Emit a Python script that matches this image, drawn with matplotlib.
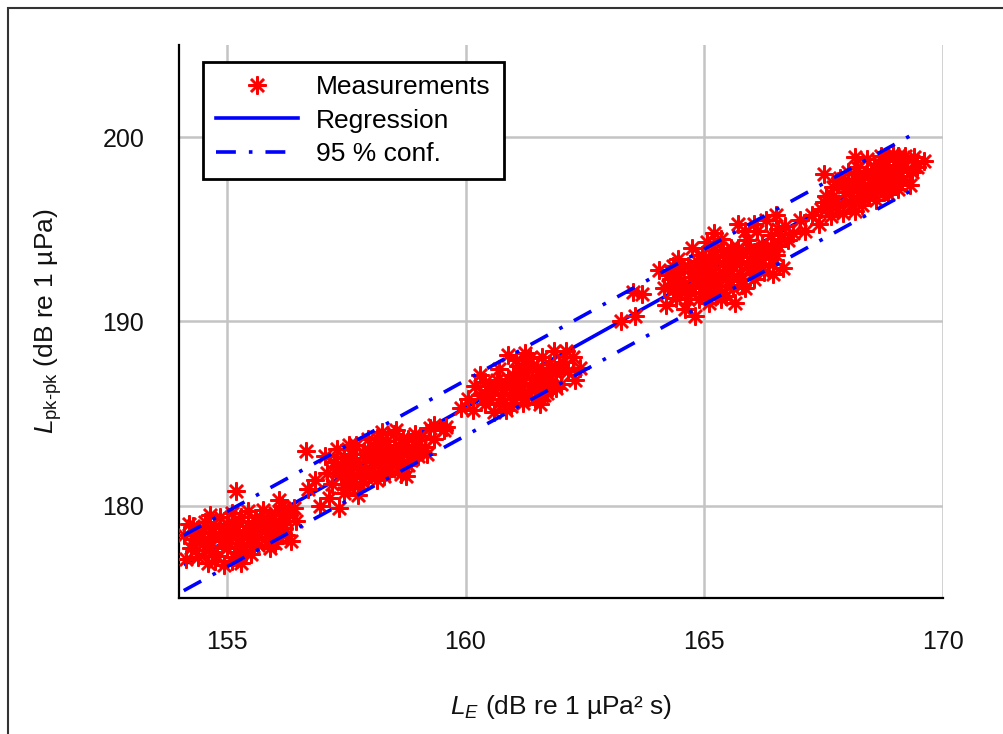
import matplotlib
matplotlib.use("Agg")
import matplotlib.pyplot as plt
from matplotlib.lines import Line2D
from matplotlib.patches import Rectangle

plt.rcParams['font.family'] = ['Liberation Sans', 'DejaVu Sans']
plt.rcParams['mathtext.fontset'] = 'custom'
plt.rcParams['mathtext.rm'] = 'Liberation Sans'
plt.rcParams['mathtext.it'] = 'Liberation Sans:italic'

# ---------------- data ----------------
meas_x = [
    # cluster ~155
    154.10, 154.25, 154.30, 154.40, 154.45, 154.55, 154.60, 154.65, 154.70, 154.80,
    154.85, 154.90, 154.95, 155.00, 155.05, 155.10, 155.15, 155.20, 155.20, 155.25,
    155.30, 155.35, 155.40, 155.45, 155.50, 155.55, 155.60, 155.65, 155.70, 155.75,
    155.80, 155.85, 155.90, 155.95, 156.00, 156.05, 156.10, 156.15, 156.20, 156.30,
    156.35, 156.40, 154.50, 154.75, 155.00, 155.30, 155.60, 155.90, 154.35, 155.10,
    154.15, 154.20, 154.40, 154.55, 154.65, 154.75, 154.90, 155.05, 155.15, 155.25,
    155.35, 155.45, 155.55, 155.70, 155.85, 156.00, 156.20, 156.25, 156.45, 156.10,
    154.60, 155.00, 155.40, 155.80,
    154.30, 154.50, 154.70, 154.85, 155.10, 155.30, 155.50, 155.65, 155.95, 156.15,
    # cluster ~158
    156.65, 156.70, 156.85, 156.95, 157.05, 157.10, 157.20, 157.25, 157.30, 157.35,
    157.40, 157.45, 157.50, 157.55, 157.60, 157.65, 157.70, 157.75, 157.80, 157.85,
    157.90, 157.95, 158.00, 158.05, 158.10, 158.15, 158.20, 158.25, 158.30, 158.35,
    158.40, 158.45, 158.50, 158.55, 158.60, 158.65, 158.70, 158.75, 158.80, 158.85,
    158.90, 159.00, 159.05, 159.15, 159.25, 159.35, 159.60, 157.15, 157.95, 158.35,
    157.30, 157.50, 157.70, 157.90, 158.00, 158.20, 158.40, 158.60, 158.80, 159.00,
    157.60, 158.10, 158.50, 157.85, 158.30, 158.95, 159.20, 157.45, 158.70, 158.15,
    157.40, 157.65, 157.80, 158.05, 158.25, 158.45, 158.65, 158.90, 157.55, 158.55,
    # cluster ~161
    159.35, 159.55, 159.90, 160.05, 160.15, 160.30, 160.30, 160.40, 160.50, 160.60,
    160.65, 160.75, 160.85, 160.90, 160.95, 161.00, 161.05, 161.10, 161.15, 161.20,
    161.25, 161.30, 161.35, 161.40, 161.45, 161.50, 161.55, 161.60, 161.65, 161.70,
    161.75, 161.80, 161.85, 161.90, 162.00, 162.05, 162.15, 162.25, 162.30, 162.40,
    160.70, 161.00, 161.30, 160.20, 161.55,
    160.50, 160.80, 161.00, 161.20, 161.40, 161.60, 161.80, 160.90, 161.10, 161.30,
    161.50, 161.70, 161.90, 160.60, 161.25, 161.65, 160.40, 162.10,
    160.45, 160.70, 160.95, 161.15, 161.35, 161.55, 161.75, 161.95, 161.05, 160.85,
    # isolated
    163.25, 163.55, 163.50, 163.70,
    # cluster ~165
    164.05, 164.15, 164.20, 164.30, 164.40, 164.45, 164.55, 164.60, 164.65, 164.70,
    164.75, 164.80, 164.85, 164.90, 164.95, 165.00, 165.05, 165.10, 165.15, 165.20,
    165.25, 165.30, 165.35, 165.40, 165.45, 165.50, 165.55, 165.60, 165.65, 165.70,
    165.75, 165.80, 165.85, 165.90, 165.95, 166.00, 166.05, 166.10, 166.15, 166.20,
    166.25, 166.30, 166.35, 166.40, 166.45, 166.50, 166.55, 166.65, 166.70, 164.50,
    164.90, 165.20, 165.50, 165.80, 166.10, 164.35, 165.60, 165.00,
    164.40, 164.60, 164.80, 165.00, 165.10, 165.30, 165.40, 165.60, 165.70, 165.90,
    166.00, 166.20, 166.40, 166.60, 164.70, 165.20, 165.45, 165.85, 166.30, 164.95,
    164.25, 166.75, 165.10, 165.75, 164.65, 165.35, 166.05, 166.50,
    164.50, 164.75, 165.05, 165.25, 165.55, 165.65, 165.95, 166.25, 166.55, 164.85,
    165.15, 165.80, 166.45, 164.35,
    # bridge
    166.85, 167.00, 167.10, 167.25, 167.40, 167.50,
    # cluster ~168.5
    167.45, 167.55, 167.65, 167.70, 167.80, 167.85, 167.90, 167.95, 168.00, 168.05,
    168.10, 168.15, 168.20, 168.25, 168.30, 168.35, 168.40, 168.45, 168.50, 168.55,
    168.60, 168.65, 168.70, 168.75, 168.80, 168.85, 168.90, 168.95, 169.00, 169.05,
    169.10, 169.15, 169.25, 169.30, 169.40, 169.60, 168.20, 168.60, 168.90, 167.60,
    169.20, 168.40,
    167.70, 167.90, 168.10, 168.30, 168.50, 168.70, 168.80, 169.00, 169.15, 168.00,
    168.45, 168.65, 168.25, 167.80, 169.35, 168.85, 167.50, 169.05,
    167.75, 168.05, 168.35, 168.55, 168.75, 169.10, 168.15, 168.95, 169.45,
]
meas_y = [
    178.40, 177.70, 178.90, 177.20, 178.30, 179.10, 176.90, 177.80, 178.60, 177.30,
    179.40, 178.10, 176.80, 177.70, 178.80, 179.60, 177.20, 178.30, 180.80, 179.10,
    176.90, 177.90, 178.70, 179.70, 177.40, 178.30, 179.20, 177.90, 178.80, 179.80,
    178.20, 179.30, 177.70, 178.70, 179.60, 178.30, 179.10, 180.00, 178.80, 179.50,
    178.10, 179.90, 178.00, 178.90, 178.40, 178.00, 178.60, 179.00, 177.60, 177.00,
    177.10, 179.00, 178.50, 177.60, 179.50, 177.00, 178.60, 178.00, 179.00, 177.50,
    178.40, 178.90, 177.80, 179.40, 178.50, 178.00, 179.90, 178.40, 179.20, 180.30,
    178.20, 179.00, 177.50, 179.00,
    178.20, 178.80, 177.50, 178.30, 178.50, 179.40, 178.50, 179.00, 179.30, 179.00,
    182.95, 180.90, 181.40, 180.00, 182.70, 181.80, 181.20, 182.40, 183.10, 179.90,
    181.60, 180.70, 182.20, 181.00, 182.80, 181.50, 183.30, 180.60, 182.00, 181.30,
    182.60, 183.60, 181.80, 182.40, 183.20, 181.40, 182.90, 184.00, 182.30, 183.50,
    181.90, 182.70, 183.90, 182.20, 183.30, 181.70, 182.80, 181.60, 183.60, 182.50,
    183.10, 182.70, 183.80, 183.20, 184.20, 183.60, 184.30, 180.40, 182.90, 182.60,
    182.10, 181.20, 182.40, 181.60, 183.00, 182.10, 183.10, 182.40, 182.20, 183.30,
    181.80, 182.60, 182.90, 182.80, 181.60, 183.90, 182.80, 182.60, 183.60, 183.70,
    182.00, 182.20, 181.20, 181.90, 182.60, 182.30, 183.00, 182.90, 183.30, 184.10,
    184.40, 184.10, 185.30, 185.80, 185.20, 186.00, 187.10, 185.50, 186.30, 185.10,
    186.80, 185.80, 186.50, 188.20, 185.40, 187.10, 186.00, 187.60, 186.60, 185.60,
    187.30, 186.20, 188.00, 186.90, 185.80, 187.50, 186.40, 188.10, 187.00, 186.10,
    187.70, 186.70, 188.40, 187.20, 186.60, 187.80, 187.30, 188.10, 186.80, 187.50,
    187.40, 186.40, 187.70, 186.50, 185.50,
    185.80, 186.10, 185.80, 186.90, 187.40, 186.80, 187.40, 186.90, 186.30, 185.90,
    186.50, 187.30, 186.40, 186.40, 188.30, 186.00, 186.70, 188.40,
    186.00, 185.60, 186.60, 187.00, 186.50, 187.10, 186.50, 187.60, 187.90, 185.20,
    190.00, 190.30, 191.60, 191.50,
    192.80, 191.80, 190.90, 192.30, 191.30, 193.40, 192.00, 190.70, 193.00, 191.60,
    194.00, 190.30, 192.50, 191.20, 193.60, 192.10, 194.30, 191.00, 192.90, 193.90,
    191.70, 192.50, 194.50, 193.20, 191.40, 192.20, 194.00, 193.00, 191.00, 195.30,
    192.60, 193.70, 191.80, 194.40, 192.90, 193.50, 192.30, 194.90, 193.00, 194.20,
    192.70, 195.50, 193.60, 194.70, 193.10, 195.80, 194.10, 192.90, 195.20, 192.70,
    192.80, 192.30, 193.50, 192.30, 193.80, 191.70, 191.80, 193.20,
    192.30, 191.60, 192.00, 191.60, 193.50, 191.90, 193.80, 192.40, 194.00, 193.10,
    192.60, 193.40, 194.10, 194.50, 192.90, 194.80, 192.80, 194.90, 194.00, 191.80,
    192.50, 194.40, 192.40, 193.30, 191.20, 191.20, 195.30, 193.60,
    191.90, 192.40, 192.70, 193.30, 192.60, 193.50, 193.90, 193.90, 195.00, 193.30,
    191.40, 192.00, 192.60, 193.00,
    194.80, 195.50, 194.90, 195.80, 195.30, 198.00,
    196.10, 196.80, 195.70, 197.30, 196.40, 197.80, 195.90, 197.00, 198.10, 196.50,
    197.50, 196.00, 198.40, 197.00, 196.30, 197.90, 198.80, 196.80, 197.50, 198.30,
    196.60, 197.80, 199.00, 197.20, 198.50, 196.90, 197.90, 199.10, 198.20, 197.20,
    198.70, 197.70, 198.30, 197.40, 198.90, 198.70, 197.20, 197.40, 198.00, 196.20,
    199.00, 196.90,
    196.80, 197.40, 196.60, 197.50, 198.10, 197.60, 197.10, 197.60, 198.40, 197.60,
    197.20, 198.50, 198.00, 197.60, 198.10, 198.90, 196.50, 199.00,
    196.20, 197.10, 196.70, 197.80, 198.20, 197.90, 198.90, 197.50, 198.40,
]

# regression line and 95 % confidence lines (end points)
line_x = [154.10, 169.40]
regr_y = [176.80, 198.90]
conf_hi_y = [178.40, 200.20]
conf_lo_y = [175.40, 197.20]

xticks = [155, 160, 165, 170]
yticks = [180, 190, 200]

# ---------------- figure ----------------
fig = plt.figure(figsize=(10.04, 7.34), dpi=100)
ax = fig.add_axes([179/1004, 1-598/734, (943-179)/1004, (598-45)/734])

blue = '#0000ff'
red = '#ff0000'
ast = (8, 2, 0)
msize = 13
mew = 1.8
lw = 2.6
dashdot = (0, (5.5, 3.6, 1, 3.6))

ax.plot(line_x, regr_y, color=blue, lw=lw, zorder=2, solid_capstyle='butt')
ax.plot(meas_x, meas_y, linestyle='none', marker=ast, markersize=msize,
        markeredgecolor=red, markerfacecolor='none', markeredgewidth=mew, zorder=3)
ax.plot(line_x, conf_hi_y, color=blue, lw=lw, linestyle=dashdot, zorder=4)
ax.plot(line_x, conf_lo_y, color=blue, lw=lw, linestyle=dashdot, zorder=4)

ax.set_xlim(154, 170)
ax.set_ylim(175, 205)
ax.set_xticks(xticks)
ax.set_yticks(yticks)
ax.grid(True, color='#c4c4c4', lw=1.8)
ax.set_axisbelow(True)
for s in ['top', 'right']:
    ax.spines[s].set_visible(False)
for s in ['left', 'bottom']:
    ax.spines[s].set_linewidth(1.6)
    ax.spines[s].set_color('black')
ax.tick_params(axis='both', length=0, labelsize=18, colors='#111111')
ax.tick_params(axis='x', pad=23)
ax.tick_params(axis='y', pad=25)

ax.set_xlabel(r'$L_E$ (dB re 1 µPa² s)', fontsize=19, color='#111111')
ax.set_ylabel(r'$L_{\text{pk-pk}}$ (dB re 1 µPa)', fontsize=19, color='#111111')
ax.xaxis.set_label_coords(0.5, -0.172)
ax.yaxis.set_label_coords(-0.150, 0.5)

handles = [
    Line2D([], [], linestyle='none', marker=ast, markersize=msize,
           markeredgecolor=red, markeredgewidth=mew),
    Line2D([], [], color=blue, lw=lw),
    Line2D([], [], color=blue, lw=lw, linestyle=dashdot),
]
leg = ax.legend(handles, ['Measurements', 'Regression', '95 % conf.'],
                loc='upper left', bbox_to_anchor=((203-179)/764, 1-(62-45)/553),
                borderaxespad=0, fontsize=19, fancybox=False, framealpha=1,
                edgecolor='black', handlelength=3.1, handletextpad=0.68,
                labelspacing=0.36, borderpad=0.5)
leg.get_frame().set_linewidth(2.0)

# outer frame (top and left edges visible)
fig.patches.append(Rectangle((8/1004, -0.5), 2.0, 0.5 + 1 - 8/734,
                             transform=fig.transFigure, fill=False,
                             edgecolor='#333333', lw=1.5))

fig.savefig('out.png', dpi=100)
